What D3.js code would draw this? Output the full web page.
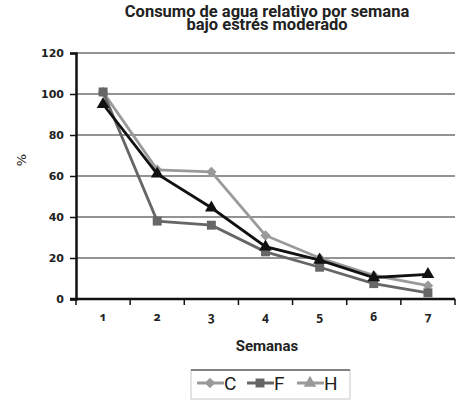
<!DOCTYPE html>
<html lang="es">
<head>
<meta charset="UTF-8">
<title>Consumo de agua relativo</title>
<script src="https://cdn.jsdelivr.net/npm/d3@7"></script>
<style>
    body { margin: 0; background: #fff; overflow: hidden; }
    svg { display: block; }
    .narrow { font-family: Roboto, sans-serif; }
</style>
</head>
<body>
<script>
    // data
    const weeks = ["1", "2", "3", "4", "5", "6", "7"];
    const valuesC = [101, 63, 62, 31, 20, 11.5, 6.5];
    const valuesF = [101, 38, 36, 23, 15.5, 7.5, 3];
    const valuesH = [95, 61, 44.5, 25.5, 19, 10.5, 12];
    const yTicks = [0, 20, 40, 60, 80, 100, 120];

    const series = [
        { name: "C", values: valuesC, color: "#9a9a9a", legendColor: "#9a9a9a", shape: "diamond" },
        { name: "F", values: valuesF, color: "#666666", legendColor: "#666666", shape: "square" },
        { name: "H", values: valuesH, color: "#111111", legendColor: "#9a9a9a", shape: "triangle" }
    ];

    const width = 460, height = 400;
    const margin = { top: 53, right: 5, bottom: 101, left: 76 };
    const innerWidth = width - margin.left - margin.right;
    const innerHeight = height - margin.top - margin.bottom;

    const svg = d3.select("body").append("svg")
        .attr("width", width)
        .attr("height", height);

    const g = svg.append("g")
        .attr("transform", `translate(${margin.left},${margin.top})`);

    const x = d3.scaleBand().domain(weeks).range([0, innerWidth]);
    const y = d3.scaleLinear().domain([0, 120]).range([innerHeight, 0]);

    // title, two tight lines
    const title = svg.append("text")
        .attr("class", "narrow")
        .attr("text-anchor", "middle")
        .style("font-size", "16.5px").style("font-weight", "bold")
        .attr("fill", "#222");
    title.append("tspan").attr("x", 267).attr("y", 17).text("Consumo de agua relativo por semana");
    title.append("tspan").attr("x", 267).attr("y", 30).text("bajo estrés moderado");

    // gridlines
    g.append("g")
        .selectAll("line")
        .data(yTicks.filter(d => d > 0))
        .join("line")
        .attr("x1", 0).attr("x2", innerWidth)
        .attr("y1", d => y(d)).attr("y2", d => y(d))
        .attr("stroke", "#6f6f6f").attr("stroke-width", 1.3);

    // y axis
    const yAxis = g.append("g")
        .call(d3.axisLeft(y).tickValues(yTicks).tickSize(6).tickPadding(6))
        .attr("font-family", "DejaVu Sans")
        .attr("font-size", 11)
        .attr("font-weight", "bold");
    yAxis.select(".domain").attr("stroke", "#111").attr("stroke-width", 2.5);
    yAxis.selectAll(".tick line").attr("stroke", "#111").attr("stroke-width", 1.5);
    yAxis.selectAll(".tick text").attr("fill", "#222");

    // x axis, old-style figures like the original
    const xAxis = g.append("g")
        .attr("transform", `translate(0,${innerHeight})`)
        .call(d3.axisBottom(x).tickSize(0).tickPadding(13))
        .attr("font-family", "Noto Sans")
        .attr("font-size", 12)
        .attr("font-weight", "bold");
    xAxis.select(".domain").remove();
    xAxis.selectAll(".tick text")
        .attr("fill", "#222")
        .style("font-feature-settings", "'onum'");
    xAxis.append("line")
        .attr("x1", -6).attr("x2", innerWidth)
        .attr("stroke", "#111").attr("stroke-width", 2.5);
    xAxis.selectAll(".sep")
        .data(weeks.concat(["end"]))
        .join("line")
        .attr("class", "sep")
        .attr("x1", (d, i) => i * x.step()).attr("x2", (d, i) => i * x.step())
        .attr("y1", 0).attr("y2", 6)
        .attr("stroke", "#111").attr("stroke-width", 1.5);

    // axis titles
    svg.append("text")
        .attr("transform", "translate(26,160) rotate(-90)")
        .attr("text-anchor", "middle")
        .style("font-family", "DejaVu Sans")
        .style("font-size", "13px")
        .attr("fill", "#222")
        .text("%");
    svg.append("text")
        .attr("class", "narrow")
        .attr("x", 267).attr("y", 351)
        .attr("text-anchor", "middle")
        .style("font-size", "15px").style("font-weight", "bold")
        .attr("fill", "#222")
        .text("Semanas");

    const symbolFor = {
        diamond: d3.symbol().type(d3.symbolDiamond2).size(70),
        square: d3.symbol().type(d3.symbolSquare).size(80),
        triangle: d3.symbol().type(d3.symbolTriangle).size(70)
    };

    const line = d3.line()
        .x((d, i) => x(weeks[i]) + x.bandwidth() / 2)
        .y(d => y(d));

    series.forEach(s => {
        g.append("path")
            .datum(s.values)
            .attr("fill", "none")
            .attr("stroke", s.color)
            .attr("stroke-width", 2.8)
            .attr("d", line);
        g.selectAll(null)
            .data(s.values)
            .join("path")
            .attr("transform", (d, i) => `translate(${x(weeks[i]) + x.bandwidth() / 2},${y(d)})`)
            .attr("d", symbolFor[s.shape]())
            .attr("fill", s.color);
    });

    // legend
    const legend = svg.append("g").attr("transform", "translate(191,370)");
    legend.append("rect")
        .attr("width", 159).attr("height", 29)
        .attr("fill", "#fff")
        .attr("stroke", "#c8c8c8").attr("stroke-width", 1);
    legend.append("line")
        .attr("x1", 0).attr("x2", 159)
        .attr("stroke", "#222").attr("stroke-width", 1.2);

    const items = legend.selectAll(".item")
        .data(series)
        .join("g")
        .attr("class", "item")
        .attr("transform", (d, i) => `translate(${6 + i * 50},13)`);
    items.append("line")
        .attr("x1", 0).attr("x2", 27)
        .attr("stroke", d => d.legendColor).attr("stroke-width", 3);
    items.append("path")
        .attr("transform", "translate(13,0)")
        .attr("d", d => symbolFor[d.shape]())
        .attr("fill", d => d.legendColor);
    items.append("text")
        .attr("class", "narrow")
        .attr("x", 27).attr("y", 7)
        .style("font-size", "19px")
        .attr("fill", "#222")
        .text(d => d.name);
</script>
</body>
</html>
